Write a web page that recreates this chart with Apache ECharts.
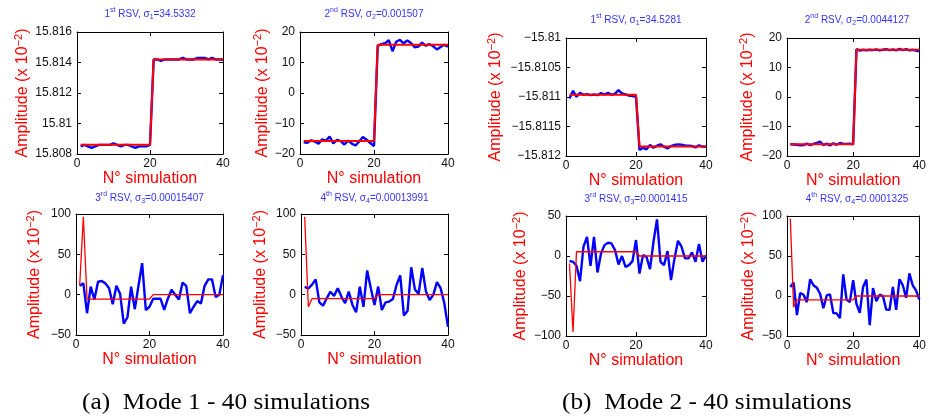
<!DOCTYPE html>
<html>
<head>
<meta charset="utf-8">
<script src="https://cdn.jsdelivr.net/npm/echarts@6/dist/echarts.min.js"></script>
<style>
  html, body { margin: 0; padding: 0; background: #fff; }
  #chart { width: 929px; height: 417px; }
</style>
</head>
<body>
<div id="chart"></div>
<script>
// N° simulation
const simIndex = [1, 2, 3, 4, 5, 6, 7, 8, 9, 10, 11, 12, 13, 14, 15, 16, 17, 18, 19, 20,
  21, 22, 23, 24, 25, 26, 27, 28, 29, 30, 31, 32, 33, 34, 35, 36, 37, 38, 39, 40];
const simTicks = [0, 20, 40];

// Mode 1
const mode1Rsv1Ticks = [15.808, 15.81, 15.812, 15.814, 15.816];
const mode1Rsv1Blue = [15.8085, 15.8086, 15.8085, 15.8084, 15.8085, 15.8086, 15.8086, 15.8086, 15.8086, 15.8087,
  15.8086, 15.8085, 15.8086, 15.8086, 15.8085, 15.8084, 15.8085, 15.8085, 15.8085, 15.8086,
  15.8142, 15.8142, 15.8141, 15.8142, 15.8142, 15.8142, 15.8142, 15.8142, 15.8143, 15.8142,
  15.8142, 15.8142, 15.8143, 15.8143, 15.8143, 15.8142, 15.8143, 15.8142, 15.8142, 15.8142];
const mode1Rsv1Red = [15.8086, 15.8086, 15.8086, 15.8086, 15.8086, 15.8086, 15.8086, 15.8086, 15.8086, 15.8086,
  15.8086, 15.8086, 15.8086, 15.8086, 15.8086, 15.8086, 15.8086, 15.8086, 15.8086, 15.8086,
  15.8142, 15.8142, 15.8142, 15.8142, 15.8142, 15.8142, 15.8142, 15.8142, 15.8142, 15.8142,
  15.8142, 15.8142, 15.8142, 15.8142, 15.8142, 15.8142, 15.8142, 15.8142, 15.8142, 15.8142];

const mode1Rsv2Ticks = [-20, -10, 0, 10, 20];
const mode1Rsv2Blue = [-16.2, -16.3, -15.5, -15.9, -16.6, -15.2, -15.6, -14.3, -16.5, -15.4,
  -15.8, -16.9, -15.6, -16.6, -17.2, -15.9, -14.4, -15.3, -16.4, -17.4,
  15.4, 16.0, 16.3, 17.3, 13.7, 16.8, 17.4, 16.3, 17.2, 16.4,
  15.0, 15.2, 16.5, 15.5, 16.0, 15.3, 14.3, 15.1, 15.8, 15.2];
const mode1Rsv2Red = [-15.7, -15.7, -15.7, -15.7, -15.7, -15.7, -15.7, -15.7, -15.7, -15.7,
  -15.7, -15.7, -15.7, -15.7, -15.7, -15.7, -15.7, -15.7, -15.7, -15.7,
  15.8, 15.8, 15.8, 15.8, 15.8, 15.8, 15.8, 15.8, 15.8, 15.8,
  15.8, 15.8, 15.8, 15.8, 15.8, 15.8, 15.8, 15.8, 15.8, 15.8];

const mode1Rsv3Ticks = [-50, 0, 50, 100];
const mode1Rsv3Blue = [11, 14, -23, 10, -6, 16, 17, 14, 8, -12,
  11, 1, -36, -28, 10, -18, 11, 39, -19, -15,
  -5, -5, -5, -19, -5, 6, 0, -6, 15, 11,
  -23, -15, -8, -11, 11, 19, 19, -3, 0, 24];
const mode1Rsv3Red = [11.2, 96.7, -5.5, -5.5, -5.5, -5.5, -5.5, -5.5, -5.5, -5.5,
  -5.5, -5.5, -5.5, -5.5, -5.5, -5.5, -5.5, -5.5, -5.5, -5.5,
  0, 0, 0, 0, 0, 0, 0, 0, 0, 0,
  0, 0, 0, 0, 0, 0, 0, 0, 0, 0];

const mode1Rsv4Ticks = [-50, 0, 50, 100];
const mode1Rsv4Blue = [9.6, 7.6, 12.5, 19, -9.6, -13.7, -4.5, 3.7, -1.5, 7.9,
  -2.4, -10.6, 3.8, -12.7, -21.9, 10, -15, 30, 8, -12.7,
  10, -19, -9.6, -8.6, -5.5, 12, 24, -26, -20, 34,
  6.3, 1, 33, 3.8, -6.6, -0.3, 15.5, 8, -10.6, -40];
const mode1Rsv4Red = [96.7, -15, -5, -5, -5, -5, -5, -5, -5, -5,
  -5, -5, -5, -5, -5, -5, -5, -5, -5, -5,
  0, 0, 0, 0, 0, 0, 0, 0, 0, 0,
  0, 0, 0, 0, 0, 0, 0, 0, 0, 0];

// Mode 2
const mode2Rsv1Ticks = [-15.812, -15.8115, -15.811, -15.8105, -15.81];
const mode2Rsv1Blue = [-15.811025, -15.810896, -15.810997, -15.81093, -15.810963, -15.810952, -15.810969, -15.810958, -15.810969, -15.810935,
  -15.810958, -15.81093, -15.810963, -15.810941, -15.810885, -15.810941, -15.810958, -15.810975, -15.810986, -15.810997,
  -15.811899, -15.811859, -15.811887, -15.811814, -15.811859, -15.811825, -15.811803, -15.811842, -15.811871, -15.811831,
  -15.811814, -15.811803, -15.811809, -15.81182, -15.811825, -15.811831, -15.811854, -15.81182, -15.811842, -15.811842];
const mode2Rsv1Red = [-15.81096, -15.81096, -15.81096, -15.81096, -15.81096, -15.81096, -15.81096, -15.81096, -15.81096, -15.81096,
  -15.81096, -15.81096, -15.81096, -15.81096, -15.81096, -15.81096, -15.81096, -15.81096, -15.81096, -15.81096,
  -15.81184, -15.81184, -15.81184, -15.81184, -15.81184, -15.81184, -15.81184, -15.81184, -15.81184, -15.81184,
  -15.81184, -15.81184, -15.81184, -15.81184, -15.81184, -15.81184, -15.81184, -15.81184, -15.81184, -15.81184];

const mode2Rsv2Ticks = [-20, -10, 0, 10, 20];
const mode2Rsv2Blue = [-16.0, -16.1, -16.2, -16.4, -16.3, -15.8, -16.3, -15.9, -15.6, -15.1,
  -16.3, -15.8, -16.4, -15.7, -16.2, -15.6, -15.8, -15.9, -15.8, -16.0,
  16.2, 15.7, 16.0, 15.8, 16.0, 15.9, 16.1, 15.8, 16.0, 16.2,
  15.9, 16.1, 15.8, 16.3, 15.9, 16.2, 15.8, 16.0, 15.7, 15.6];
const mode2Rsv2Red = [-16.05, -16.05, -16.05, -16.05, -16.05, -16.05, -16.05, -16.05, -16.05, -16.05,
  -16.05, -16.05, -16.05, -16.05, -16.05, -16.05, -16.05, -16.05, -16.05, -16.05,
  16.05, 16.05, 16.05, 16.05, 16.05, 16.05, 16.05, 16.05, 16.05, 16.05,
  16.05, 16.05, 16.05, 16.05, 16.05, 16.05, 16.05, 16.05, 16.05, 16.05];

const mode2Rsv3Ticks = [-100, -50, 0, 50];
const mode2Rsv3Blue = [-6.4, -7.2, -12.3, -31.5, 11.6, 24, -12.3, 24, -20.6, 3.2,
  13.6, 16.6, 15.7, 7.4, -10.6, 0, -13.5, -11.4, -6.4, 20,
  -21.9, 1.1, -1, -16.4, 17.8, 45.8, -7.2, -11.4, 6.1, -30.2,
  -3, 19, 11.6, -3, -3, 4.5, -7.2, 15, -7.2, 1];
const mode2Rsv3Red = [-9.3, -95, 5.3, 5.3, 5.3, 5.3, 5.3, 5.3, 5.3, 5.3,
  5.3, 5.3, 5.3, 5.3, 5.3, 5.3, 5.3, 5.3, 5.3, 5.3,
  0, 0, 0, 0, 0, 0, 0, 0, 0, 0,
  0, 0, 0, 0, 0, 0, 0, 0, 0, 0];

const mode2Rsv4Ticks = [-50, 0, 50, 100];
const mode2Rsv4Blue = [11.3, 16.8, -23.8, 3.7, 1.6, -7.7, 21, 13.4, 10.4, 2.8,
  -15.3, 0.7, 2, -21.2, -21.7, -27.6, 27, -4.4, -7.7, 19.7,
  -9.8, -21.2, 11.3, 20.6, -36.5, 10, -6.5, 1.6, -0.1, -17,
  -17.4, 11.3, -17.4, 21, 13.4, -2.2, 28.2, 13.4, 7, -4.4];
const mode2Rsv4Red = [96.6, -14, -4.8, -4.8, -4.8, -4.8, -4.8, -4.8, -4.8, -4.8,
  -4.8, -4.8, -4.8, -4.8, -4.8, -4.8, -4.8, -4.8, -4.8, -4.8,
  0, 0, 0, 0, 0, 0, 0, 0, 0, 0,
  0, 0, 0, 0, 0, 0, 0, 0, 0, 0];

// titles: [order, suffix, sigma index, sigma value]
const mode1Titles = [["1", "st", "1", "34.5332"], ["2", "nd", "2", "0.001507"], ["3", "rd", "3", "0.00015407"], ["4", "th", "4", "0.00013991"]];
const mode2Titles = [["1", "st", "1", "34.5281"], ["2", "nd", "2", "0.0044127"], ["3", "rd", "3", "0.0001415"], ["4", "th", "4", "0.0001325"]];
const captions = ["(a)  Mode 1 - 40 simulations", "(b)  Mode 2 - 40 simulations"];

const FONT = '"Liberation Sans", Arial, sans-serif';
const BLUE = "#0000ff";
const RED = "#ff0000";
const TITLE_BLUE = "#3333ff";

const panels = [
  { grid: { left: 77, top: 32, width: 146, height: 122 }, title: mode1Titles[0], titleTop: 7, ticks: mode1Rsv1Ticks, blue: mode1Rsv1Blue, red: mode1Rsv1Red, nameGap: 44, redW: 2 },
  { grid: { left: 300, top: 32, width: 148, height: 122 }, title: mode1Titles[1], titleTop: 7, ticks: mode1Rsv2Ticks, blue: mode1Rsv2Blue, red: mode1Rsv2Red, nameGap: 26, redW: 2 },
  { grid: { left: 76, top: 214, width: 147, height: 121 }, title: mode1Titles[2], titleTop: 191, ticks: mode1Rsv3Ticks, blue: mode1Rsv3Blue, red: mode1Rsv3Red, nameGap: 31, redW: 1.3 },
  { grid: { left: 301, top: 214, width: 147, height: 121 }, title: mode1Titles[3], titleTop: 191, ticks: mode1Rsv4Ticks, blue: mode1Rsv4Blue, red: mode1Rsv4Red, nameGap: 30, redW: 1.3 },
  { grid: { left: 566, top: 38, width: 140, height: 118 }, title: mode2Titles[0], titleTop: 13, ticks: mode2Rsv1Ticks, blue: mode2Rsv1Blue, red: mode2Rsv1Red, nameGap: 60, redW: 2 },
  { grid: { left: 787, top: 38, width: 140, height: 118 }, title: mode2Titles[1], titleTop: 13, ticks: mode2Rsv2Ticks, blue: mode2Rsv2Blue, red: mode2Rsv2Red, nameGap: 29, redW: 2 },
  { grid: { left: 566, top: 216, width: 140, height: 120 }, title: mode2Titles[2], titleTop: 192, ticks: mode2Rsv3Ticks, blue: mode2Rsv3Blue, red: mode2Rsv3Red, nameGap: 35, redW: 1.3 },
  { grid: { left: 787, top: 216, width: 140, height: 120 }, title: mode2Titles[3], titleTop: 192, ticks: mode2Rsv4Ticks, blue: mode2Rsv4Blue, red: mode2Rsv4Red, nameGap: 28, redW: 1.3 }
];

const fmtTick = (v) => String(parseFloat(Number(v).toFixed(4))).replace("-", "\u2212");

const chart = echarts.init(document.getElementById("chart"));

const grids = [], xAxes = [], yAxes = [], titles = [], series = [];

panels.forEach((p, i) => {
  grids.push(Object.assign({ containLabel: false }, p.grid));

  const t = p.title;
  const tStyle = { fontFamily: FONT, fontWeight: "normal", color: TITLE_BLUE };
  titles.push({
    text: "{n|" + t[0] + "}{p|" + t[1] + "}{n| RSV, \u03c3}{b|" + t[2] + "}{n|=" + t[3] + "}",
    left: p.grid.left + p.grid.width / 2,
    top: p.titleTop,
    textAlign: "center",
    padding: 0,
    textStyle: {
      fontWeight: "normal",
      rich: {
        n: Object.assign({ fontSize: 10, lineHeight: 14 }, tStyle),
        p: Object.assign({ fontSize: 7, verticalAlign: "top", lineHeight: 8 }, tStyle),
        b: Object.assign({ fontSize: 7, verticalAlign: "bottom", lineHeight: 8 }, tStyle)
      }
    }
  });

  const frame = { show: true, onZero: false, lineStyle: { color: "#000", width: 1 } };
  const tick = (vals) => ({ show: true, inside: true, length: 4, customValues: vals, lineStyle: { color: "#000", width: 1 } });

  xAxes.push({
    type: "value", gridIndex: i, position: "bottom", min: 0, max: 40,
    axisLine: frame, axisTick: tick(simTicks), splitLine: { show: false },
    axisLabel: { customValues: simTicks, color: "#111", fontFamily: FONT, fontSize: 12, margin: 4 },
    name: "N\u00b0 simulation", nameLocation: "middle", nameGap: 16,
    nameTextStyle: { color: RED, fontFamily: FONT, fontSize: 16 }
  });
  xAxes.push({
    type: "value", gridIndex: i, position: "top", min: 0, max: 40,
    axisLine: frame, axisTick: tick(simTicks), splitLine: { show: false }, axisLabel: { show: false }
  });

  const yMin = p.ticks[0], yMax = p.ticks[p.ticks.length - 1];
  yAxes.push({
    type: "value", gridIndex: i, position: "left", min: yMin, max: yMax, scale: true,
    axisLine: frame, axisTick: tick(p.ticks), splitLine: { show: false },
    axisLabel: { customValues: p.ticks, formatter: fmtTick, color: "#111", fontFamily: FONT, fontSize: 12, margin: 5 },
    name: "{n|Amplitude (x 10}{s|\u22122}{n|)}", nameLocation: "middle", nameGap: p.nameGap,
    nameTextStyle: {
      rich: {
        n: { color: RED, fontFamily: FONT, fontSize: 16, lineHeight: 20 },
        s: { color: RED, fontFamily: FONT, fontSize: 11, verticalAlign: "top", lineHeight: 12 }
      }
    }
  });
  yAxes.push({
    type: "value", gridIndex: i, position: "right", min: yMin, max: yMax, scale: true,
    axisLine: frame, axisTick: tick(p.ticks), splitLine: { show: false }, axisLabel: { show: false }
  });

  series.push({
    type: "line", xAxisIndex: 2 * i, yAxisIndex: 2 * i, symbol: "none", silent: true, z: 2,
    data: simIndex.map((x, k) => [x, p.blue[k]]),
    lineStyle: { color: BLUE, width: 2.4 }, itemStyle: { color: BLUE }
  });
  series.push({
    type: "line", xAxisIndex: 2 * i, yAxisIndex: 2 * i, symbol: "none", silent: true, z: 3,
    data: simIndex.map((x, k) => [x, p.red[k]]),
    lineStyle: { color: RED, width: p.redW }, itemStyle: { color: RED }
  });
});

const graphics = [
  { left: 82, text: captions[0] },
  { left: 562, text: captions[1] }
].map((c) => ({
  type: "text", x: c.left, y: 403, scaleX: 1.1, scaleY: 1,
  style: { text: c.text, fontFamily: '"Liberation Serif", "Times New Roman", serif', fontSize: 23, fill: "#000", align: "left", verticalAlign: "middle" }
}));

chart.setOption({
  animation: false,
  backgroundColor: "#fff",
  title: titles,
  grid: grids,
  xAxis: xAxes,
  yAxis: yAxes,
  series: series,
  graphic: graphics
});

window.addEventListener("resize", () => {
  chart.resize();
});
</script>
</body>
</html>
